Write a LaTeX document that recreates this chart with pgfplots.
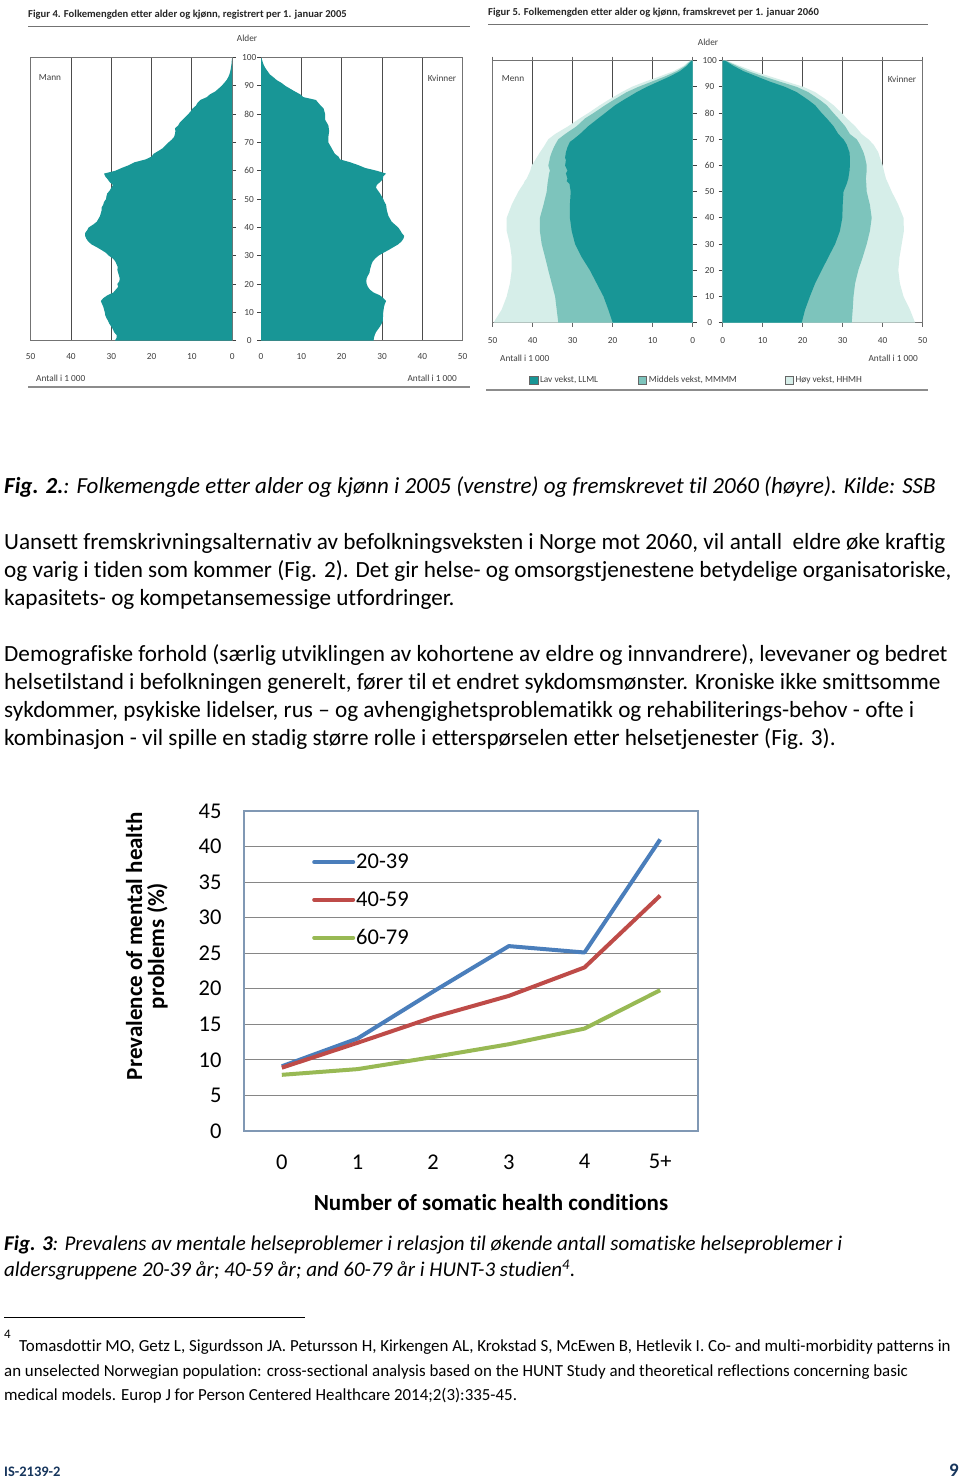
\documentclass[border=0pt]{standalone}
\usepackage{pgfplots}
\pgfplotsset{compat=1.18}
\usepackage{pgfplotstable}
\usepackage{fontspec}
\setmainfont{Carlito}[Ligatures=NoCommon]
\definecolor{tealA}{RGB}{24,150,150}
\definecolor{tealB}{RGB}{125,196,188}
\definecolor{tealC}{RGB}{214,238,233}
\definecolor{xlblue}{RGB}{74,126,187}
\definecolor{xlred}{RGB}{190,75,72}
\definecolor{xlgreen}{RGB}{152,185,84}
\definecolor{gridg}{RGB}{134,134,134}
\definecolor{axb}{RGB}{128,152,180}
\definecolor{navy}{RGB}{23,54,93}
\newcommand{\bodyfont}{\fontsize{23.2}{28}\selectfont}
\newcommand{\pyrfont}{\fontsize{9.3}{10}\selectfont}

% Figur 4: population 2005, age, men, women (thousands)
\pgfplotstableread{
age m f
0 0 0
0 29.1 27.9
1 28.7 28.0
2 28.7 28.2
3 29.3 28.5
4 29.6 29.0
5 30.0 29.5
6 30.5 29.9
7 30.8 30.2
8 31.2 30.2
9 31.5 30.3
10 31.6 30.3
11 31.8 30.4
12 32.0 30.5
13 32.3 30.7
14 32.6 31.0
15 32.0 30.3
16 31.0 29.5
17 29.5 27.9
18 28.9 27.0
19 28.3 26.5
20 28.5 26.2
21 28.0 26.1
22 27.9 26.2
23 28.1 26.5
24 28.3 26.9
25 28.5 27.0
26 28.4 27.2
27 28.7 27.4
28 29.0 27.7
29 29.6 28.3
30 30.6 29.1
31 31.3 30.3
32 32.4 31.6
33 33.6 32.8
34 34.9 34.0
35 35.7 34.8
36 36.2 35.3
37 36.5 35.5
38 36.5 34.9
39 36.0 34.5
40 35.6 34.0
41 34.5 33.2
42 33.6 32.4
43 33.2 32.0
44 32.8 31.6
45 32.6 31.4
46 32.4 31.2
47 32.4 31.1
48 32.0 31.0
49 31.8 30.6
50 31.3 30.3
51 31.2 29.9
52 31.0 29.5
53 30.4 29.0
54 30.0 28.5
55 29.6 28.7
56 30.4 29.5
57 30.9 30.2
58 31.5 30.3
59 31.8 31.0
60 29.0 28.7
61 27.4 25.8
62 25.6 24.1
63 24.2 22.1
64 21.5 19.6
65 20.0 19.2
66 19.5 18.3
67 18.3 17.9
68 17.2 17.5
69 16.5 17.1
70 15.8 16.7
71 15.0 16.7
72 14.4 16.7
73 14.2 16.8
74 14.1 16.9
75 14.2 16.8
76 13.4 16.7
77 13.0 16.3
78 12.3 15.9
79 11.6 15.9
80 10.9 15.9
81 10.3 15.7
82 9.8 15.5
83 9.0 14.8
84 8.6 14.2
85 7.9 13.6
86 6.3 10.5
87 5.5 9.7
88 4.2 8.4
89 3.4 7.2
90 2.6 6.0
91 2.0 5.1
92 1.4 3.9
93 1.0 3.1
94 0.7 2.2
95 0.5 1.7
96 0.35 1.2
97 0.25 0.8
98 0.15 0.5
99 0.1 0.3
100 0 0
}\popA

% Figur 5: projection 2060, three alternatives
\pgfplotstableread{
age low mid high
0 0 0 0
0 20.0 33.6 49.8
5 21.1 34.0 47.75
10 22.3 34.4 46.5
15 24.0 35.25 45.7
20 25.7 36.1 45.25
25 27.75 36.9 45.25
30 29.4 37.75 45.7
35 30.25 38.2 46.5
40 30.7 38.2 46.5
45 30.7 37.3 45.25
50 30.5 36.5 43.6
53 30.8 36.3 42.3
54 31.5 36.2 42.0
55 31.3 36.1 41.5
57 31.7 35.9 40.9
58 31.3 35.7 40.6
60 31.9 36.1 40.25
62 31.7 35.8 39.4
63 31.9 35.7 39.0
65 31.7 35.25 38.2
67 31.3 34.7 37.3
69 30.7 34.0 36.5
70 29.8 33.6 36.1
72 28.2 31.9 34.4
75 26.1 29.0 31.1
78 23.6 26.9 28.2
80 21.9 24.8 26.1
83 19.4 21.9 23.2
85 17.3 19.8 21.1
88 14.0 16.5 17.75
90 11.5 13.6 15.25
92 8.6 10.25 11.9
94 5.7 6.9 8.2
96 3.2 4.0 4.8
98 1.5 1.9 2.3
100 0.3 0.5 0.7
100 0 0 0
}\popMen
\pgfplotstableread{
age low mid high
0 0 0 0
0 19.75 32.25 48.1
5 20.6 32.5 46.8
10 21.8 32.7 45.2
15 23.1 33.1 44.3
20 24.75 33.9 43.9
25 26.4 35.0 44.2
30 28.1 36.0 44.75
35 29.3 36.8 45.3
40 29.9 37.25 45.2
45 30.0 36.8 43.9
50 30.2 36.0 42.25
53 31.0 35.9 41.4
55 31.4 35.8 40.8
58 31.7 36.0 40.3
60 31.8 36.0 40.0
63 31.8 35.6 39.3
65 31.7 35.2 38.9
68 31.0 34.3 37.7
70 30.2 33.5 36.4
72 28.9 31.8 34.75
75 27.7 30.6 33.1
78 26.0 28.9 31.0
80 24.75 27.7 29.75
83 23.1 26.0 27.7
85 21.4 24.3 26.0
88 18.5 21.4 23.1
90 15.6 18.5 20.2
92 11.8 14.3 16.0
94 8.5 10.2 11.8
96 5.2 6.4 7.7
98 2.7 3.5 4.3
100 0.6 0.8 1.0
100 0 0 0
}\popWomen

% Fig 3
\pgfplotstableread{
n a b c
0 9.1 8.9 7.9
1 13.0 12.4 8.7
2 19.6 16.0 10.4
3 26.0 19.0 12.2
4 25.1 23.0 14.4
5 41.0 33.1 19.8
}\prev

\pgfplotsset{
  /pgf/number format/assume math mode=true,
  pyr/.style={scale only axis, anchor=south west,
    xmin=0, xmax=50, ymin=0, ymax=100,
    xtick={0,10,...,50}, ytick={0,10,...,100},
    xmajorgrids, major grid style={draw=black!70, line width=0.8pt},
    axis line style={draw=black!55, line width=0.8pt},
    tick label style={font=\pyrfont, text=black!75},
    xticklabel style={yshift=-5pt},
    xtick style={draw=none},
    ytick style={draw=black!75, line width=0.8pt},
    major tick length=4pt, tick align=outside,
  },
}

\begin{document}
\begin{tikzpicture}[x=1pt,y=1pt]
\path[use as bounding box, fill=white] (0,0) rectangle (960,1483);

% ---------------- Figur 4 ----------------
\node[anchor=west, inner sep=0, font=\fontsize{10.6}{11}\selectfont\bfseries, text=black!85] at (28,1483-15) {Figur 4. Folkemengden etter alder og kjønn, registrert per 1. januar 2005};
\draw[black!55, line width=0.8pt] (28,1483-26) -- (470,1483-26);
\draw[black!45, line width=2pt] (28,1483-387) -- (470,1483-387);
\node[font=\pyrfont, text=black!75] at (247,1483-38) {Alder};
\node[font=\pyrfont, text=black!75] at (50,1483-78) {Mann};
\node[font=\pyrfont, text=black!75] at (442,1483-78) {Kvinner};
\node[anchor=west, inner sep=0, font=\pyrfont, text=black!75] at (36,1483-378) {Antall i 1 000};
\node[anchor=east, inner sep=0, font=\pyrfont, text=black!75] at (457,1483-378) {Antall i 1 000};

\begin{axis}[pyr, at={(30.7pt,1142.3pt)}, width=201.5pt, height=283.2pt,
  x dir=reverse, ytick pos=right, yticklabel pos=right,
  yticklabel style={anchor=center, xshift=13pt}]
\addplot[fill=tealA, draw=none] table[x=m, y=age] {\popA};
\end{axis}
\begin{axis}[pyr, at={(261pt,1142.3pt)}, width=201.7pt, height=283.2pt,
  ytick pos=left, yticklabels={}]
\addplot[fill=tealA, draw=none] table[x=f, y=age] {\popA};
\end{axis}

% ---------------- Figur 5 ----------------
\node[anchor=west, inner sep=0, font=\fontsize{10.6}{11}\selectfont\bfseries, text=black!85] at (488,1483-13) {Figur 5. Folkemengden etter alder og kjønn, framskrevet per 1. januar 2060};
\draw[black!55, line width=0.8pt] (488,1483-24) -- (928,1483-24);
\draw[black!45, line width=2pt] (486,1483-390) -- (928,1483-390);
\node[font=\pyrfont, text=black!75] at (708,1483-42) {Alder};
\node[font=\pyrfont, text=black!75] at (513,1483-79) {Menn};
\node[font=\pyrfont, text=black!75] at (902,1483-79) {Kvinner};
\node[anchor=west, inner sep=0, font=\pyrfont, text=black!75] at (500,1483-358) {Antall i 1 000};
\node[anchor=east, inner sep=0, font=\pyrfont, text=black!75] at (918,1483-358) {Antall i 1 000};

\begin{axis}[pyr, at={(492.7pt,1160.3pt)}, width=200pt, height=262pt,
  x dir=reverse, ytick pos=right, yticklabel pos=right,
  yticklabel style={anchor=center, xshift=13pt},
  xticklabel style={yshift=-2pt},
  xtick style={draw=black!60, line width=0.8pt}]
\addplot[fill=tealC, draw=none] table[x=high, y=age] {\popMen};
\addplot[fill=tealB, draw=none] table[x=mid, y=age] {\popMen};
\addplot[fill=tealA, draw=none] table[x=low, y=age] {\popMen};
\end{axis}
\begin{axis}[pyr, at={(722.7pt,1160.3pt)}, width=200pt, height=262pt,
  ytick pos=left, yticklabels={},
  xticklabel style={yshift=-2pt},
  xtick style={draw=black!60, line width=0.8pt},
  legend columns=3,
  legend style={at={(axis description cs:-0.9685,-0.2187)}, anchor=west,
    draw=none, fill=none, inner sep=0pt, font=\pyrfont, text=black!75,
    /tikz/every even column/.append style={column sep=0pt}}]
\addplot[fill=tealC, draw=none, forget plot] table[x=high, y=age] {\popWomen};
\addplot[fill=tealB, draw=none, forget plot] table[x=mid, y=age] {\popWomen};
\addplot[fill=tealA, draw=none, forget plot] table[x=low, y=age] {\popWomen};
\addlegendimage{legend image code/.code={\draw[fill=tealA, draw=black!60] (0pt,-4.2pt) rectangle (8.4pt,4.2pt);}}
\addlegendentry{\makebox[96pt][l]{Lav vekst, LLML}}
\addlegendimage{legend image code/.code={\draw[fill=tealB, draw=black!60] (0pt,-4.2pt) rectangle (8.4pt,4.2pt);}}
\addlegendentry{\makebox[134pt][l]{Middels vekst, MMMM}}
\addlegendimage{legend image code/.code={\draw[fill=tealC, draw=black!60] (0pt,-4.2pt) rectangle (8.4pt,4.2pt);}}
\addlegendentry{Høy vekst, HHMH}
\end{axis}

% ---------------- Text ----------------
\node[anchor=base west, inner sep=0] at (4,1483-494) {\fontsize{23}{28}\selectfont\itshape{\bfseries Fig. 2.}: Folkemengde etter alder og kjønn i 2005 (venstre) og fremskrevet til 2060 (høyre). Kilde: SSB};
\node[anchor=base west, inner sep=0] at (4,1483-550) {\bodyfont Uansett fremskrivningsalternativ av befolkningsveksten i Norge mot 2060, vil antall\ \ eldre øke kraftig};
\node[anchor=base west, inner sep=0] at (4,1483-578) {\bodyfont og varig i tiden som kommer (Fig. 2). Det gir helse- og omsorgstjenestene betydelige organisatoriske,};
\node[anchor=base west, inner sep=0] at (4,1483-606) {\bodyfont kapasitets- og kompetansemessige utfordringer.};
\node[anchor=base west, inner sep=0] at (4,1483-662) {\bodyfont Demografiske forhold (særlig utviklingen av kohortene av eldre og innvandrere), levevaner og bedret};
\node[anchor=base west, inner sep=0] at (4,1483-690) {\bodyfont helsetilstand i befolkningen generelt, fører til et endret sykdomsmønster. Kroniske ikke smittsomme};
\node[anchor=base west, inner sep=0] at (4,1483-718) {\bodyfont sykdommer, psykiske lidelser, rus – og avhengighetsproblematikk og rehabiliterings-behov - ofte i};
\node[anchor=base west, inner sep=0] at (4,1483-746) {\bodyfont kombinasjon - vil spille en stadig større rolle i etterspørselen etter helsetjenester (Fig. 3).};

% ---------------- Fig 3 chart ----------------
\begin{axis}[scale only axis, width=454pt, height=320pt, at={(244pt,352pt)}, anchor=south west,
  xmin=-0.5, xmax=5.5, ymin=0, ymax=45,
  xtick={0,...,5}, xticklabels={0,1,2,3,4,5+},
  ytick={0,5,...,45},
  ymajorgrids, major grid style={draw=gridg, line width=1.2pt},
  axis line style={draw=axb, line width=1.2pt},
  tick style={draw=none},
  tick label style={font=\fontsize{22.5}{24}\selectfont},
  yticklabel style={xshift=-19pt},
  xticklabel style={yshift=-20pt},
  xlabel={Number of somatic health conditions},
  ylabel={Prevalence of mental health\\problems (\%)},
  xlabel style={font=\fontsize{23}{24}\selectfont\bfseries, at={(axis description cs:0.544,-0.225)}, anchor=center},
  ylabel style={font=\fontsize{23}{22}\selectfont\bfseries, align=center, at={(axis description cs:-0.214,0.578)}, anchor=center, rotate=0},
  legend style={at={(axis description cs:0.1498,0.869)}, anchor=north west, draw=none, fill=none,
    inner sep=0pt, row sep=19.5pt, font=\fontsize{22.5}{24}\selectfont, nodes={inner sep=1pt}},
  legend cell align=left,
  legend image code/.code={\draw[#1, line width=4pt, line cap=round] (2pt,0pt) -- (41pt,0pt);},
]
\addplot[xlblue, line width=4pt, line join=round] table[x=n, y=a] {\prev};
\addlegendentry{20-39}
\addplot[xlred, line width=4pt, line join=round] table[x=n, y=b] {\prev};
\addlegendentry{40-59}
\addplot[xlgreen, line width=4pt, line join=round] table[x=n, y=c] {\prev};
\addlegendentry{60-79}
\end{axis}

% ---------------- Caption, footnote, footer ----------------
\node[anchor=base west, inner sep=0] at (4,1483-1251) {\fontsize{21}{26}\selectfont\itshape{\bfseries Fig. 3}: Prevalens av mentale helseproblemer i relasjon til økende antall somatiske helseproblemer i};
\node[anchor=base west, inner sep=0] at (4,1483-1277) {\fontsize{21}{26}\selectfont\itshape aldersgruppene 20-39 år; 40-59 år; and 60-79 år i HUNT-3 studien\textsuperscript{4}.};
\draw[black, line width=1pt] (4,1483-1318) -- (305,1483-1318);
\node[anchor=base west, inner sep=0] at (4,1483-1339) {\fontsize{13}{14}\selectfont 4};
\node[anchor=base west, inner sep=0] at (19,1483-1352) {\fontsize{16.9}{24}\selectfont Tomasdottir MO, Getz L, Sigurdsson JA. Petursson H, Kirkengen AL, Krokstad S, McEwen B, Hetlevik I. Co- and multi-morbidity patterns in};
\node[anchor=base west, inner sep=0] at (4,1483-1377) {\fontsize{16.9}{24}\selectfont an unselected Norwegian population: cross-sectional analysis based on the HUNT Study and theoretical reflections concerning basic};
\node[anchor=base west, inner sep=0] at (4,1483-1401) {\fontsize{16.9}{24}\selectfont medical models. Europ J for Person Centered Healthcare 2014;2(3):335-45.};
\node[anchor=base west, inner sep=0, text=navy] at (4,1483-1477) {\fontsize{14.5}{15}\selectfont\bfseries IS-2139-2};
\node[anchor=base east, inner sep=0, text=navy] at (959,1483-1477) {\fontsize{19}{20}\selectfont\bfseries 9};
\end{tikzpicture}
\end{document}
